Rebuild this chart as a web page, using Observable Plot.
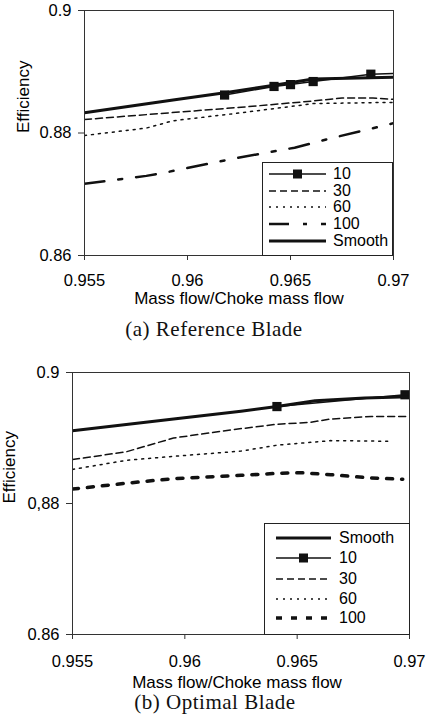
<!DOCTYPE html>
<html>
<head>
<meta charset="utf-8">
<script src="https://cdn.jsdelivr.net/npm/d3@7"></script>
<script src="https://cdn.jsdelivr.net/npm/@observablehq/plot@0.6"></script>
<style>
  html, body { margin: 0; padding: 0; background: #fff; }
  #root { position: relative; width: 433px; height: 726px; overflow: hidden; background: #fff; }
  .abs { position: absolute; }
  .legend { position: absolute; box-sizing: border-box; border: 1px solid #222; background: #fff;
            font-family: "Liberation Sans", Arial, sans-serif; font-size: 16px; color: #000; }
  .row { position: absolute; height: 14px; display: flex; align-items: center; white-space: nowrap; }
  .row svg { display: block; }
  .row span { display: block; height: 14px; line-height: 14px; overflow: visible; }
  .caption { position: absolute; font-family: "Liberation Serif", "Times New Roman", serif; font-size: 21px;
             letter-spacing: 0.5px; color: #111; white-space: nowrap; transform: translate(-50%, -50%); }
</style>
</head>
<body>
<div id="root"></div>
<script>
// ---------- tick values and labels ----------
const xTicks = [0.955, 0.96, 0.965, 0.97];
const xTickLabels = ["0.955", "0.96", "0.965", "0.97"];
const yTicks = [0.86, 0.88, 0.9];
const yTickLabelsA = ["0.86", "0.88", "0.9"];
const yTickLabelsB = ["0.86", "0,88", "0.9"];
const xTitle = "Mass flow/Choke mass flow";
const yTitle = "Efficiency";
const captionA = "(a) Reference Blade";
const captionB = "(b) Optimal Blade";

// ---------- (a) Reference Blade ----------
const aSmoothX = [0.955, 0.9593, 0.9619, 0.9642, 0.9661, 0.970];
const aSmoothY = [0.8833, 0.8854, 0.8866, 0.8878, 0.8888, 0.8891];
const a10X = [0.9618, 0.9642, 0.9650, 0.9661, 0.9689, 0.9705];
const a10Y = [0.8862, 0.8876, 0.8879, 0.8884, 0.8896, 0.8898];
const a30X = [0.955, 0.958, 0.9626, 0.966, 0.9675, 0.969, 0.970];
const a30Y = [0.8822, 0.8830, 0.8842, 0.8852, 0.8857, 0.8857, 0.8855];
const a60X = [0.955, 0.958, 0.9593, 0.9626, 0.9661, 0.9697, 0.970];
const a60Y = [0.8796, 0.8808, 0.8820, 0.8833, 0.8848, 0.8850, 0.8850];
const a100X = [0.955, 0.958, 0.959, 0.9622, 0.9652, 0.9668, 0.970];
const a100Y = [0.8717, 0.8730, 0.8736, 0.8758, 0.8776, 0.8790, 0.8816];
const legendOrderA = ["10", "30", "60", "100", "Smooth"];

// ---------- (b) Optimal Blade ----------
const bSmoothX = [0.955, 0.9595, 0.9625, 0.9641, 0.9658, 0.9680, 0.970];
const bSmoothY = [0.8911, 0.8929, 0.8941, 0.8948, 0.8957, 0.8961, 0.8963];
const b10X = [0.9641, 0.9698];
const b10Y = [0.8948, 0.8966];
const b30X = [0.955, 0.9574, 0.9595, 0.9622, 0.9641, 0.9656, 0.9665, 0.9683, 0.970];
const b30Y = [0.8867, 0.8879, 0.8900, 0.8913, 0.8921, 0.8924, 0.8929, 0.8933, 0.8933];
const b60X = [0.955, 0.9574, 0.9595, 0.9625, 0.9641, 0.9665, 0.9692];
const b60Y = [0.8852, 0.8866, 0.8872, 0.8880, 0.8889, 0.8896, 0.8895];
const b100X = [0.955, 0.9574, 0.9595, 0.9625, 0.9641, 0.9652, 0.9665, 0.9683, 0.9697];
const b100Y = [0.8822, 0.8831, 0.8838, 0.8843, 0.8846, 0.8847, 0.8844, 0.8839, 0.8837];
const legendOrderB = ["Smooth", "10", "30", "60", "100"];

// ---------- styles ----------
const seriesStyleA = {
  "Smooth": {strokeWidth: 3, dash: null},
  "10": {strokeWidth: 1.5, dash: null, marker: true},
  "30": {strokeWidth: 1.5, dash: "7,4"},
  "60": {strokeWidth: 1.5, dash: "2,5"},
  "100": {strokeWidth: 2.5, dash: "20,14,4,14"}
};
const seriesStyleB = {
  "Smooth": {strokeWidth: 3, dash: null},
  "10": {strokeWidth: 1.5, dash: null, marker: true},
  "30": {strokeWidth: 1.5, dash: "7,4"},
  "60": {strokeWidth: 1.5, dash: "2,5"},
  "100": {strokeWidth: 3.5, dash: "6,9"}
};

const zip = (xs, ys) => xs.map((x, i) => ({x, y: ys[i]}));

function makeChart(series, styles, yLabels, geom) {
  const xLab = new Map(xTicks.map((t, i) => [t, xTickLabels[i]]));
  const yLab = new Map(yTicks.map((t, i) => [t, yLabels[i]]));
  const marks = [];
  for (const key of ["100", "60", "30", "10", "Smooth"]) {
    const s = styles[key];
    const data = series[key];
    marks.push(Plot.line(data, {
      x: "x", y: "y", stroke: "#111", strokeWidth: s.strokeWidth,
      strokeDasharray: s.dash || undefined, strokeLinejoin: "round", clip: true
    }));
    if (s.marker) {
      marks.push(Plot.dot(data.filter(d => d.x <= 0.97), {
        x: "x", y: "y", symbol: "square", r: 5.2, fill: "#111", stroke: "none"
      }));
    }
  }
  marks.push(Plot.frame({stroke: "#333", strokeWidth: 1}));
  marks.push(Plot.axisX(xTicks, {tickSize: 5, tickPadding: geom.xPad, tickFormat: d => xLab.get(d), stroke: "#333", fill: "#000", fontSize: 16.5}));
  marks.push(Plot.axisY(yTicks, {tickSize: 6, tickPadding: 7, tickFormat: d => yLab.get(d), stroke: "#333", fill: "#000", fontSize: 16.5}));
  marks.push(Plot.text([xTitle], {frameAnchor: "bottom", dy: geom.xTitleDy, dx: geom.xTitleDx, text: d => d, lineAnchor: "middle", fontSize: 17, fill: "#000"}));
  marks.push(Plot.text([yTitle], {frameAnchor: "left", dx: geom.yTitleDx, rotate: -90, text: d => d, lineAnchor: "middle", fontSize: 17, fill: "#000"}));
  return Plot.plot({
    width: 433,
    height: geom.height,
    marginTop: geom.mt, marginBottom: geom.mb, marginLeft: geom.ml, marginRight: geom.mr,
    x: {domain: [0.955, 0.97], label: null},
    y: {domain: [0.86, 0.9], label: null},
    style: {fontFamily: "'Liberation Sans', Arial, sans-serif", fontSize: "16px", color: "#000", background: "transparent"},
    marks
  });
}

function makeLegend(order, styles, box) {
  const div = document.createElement("div");
  div.className = "legend";
  Object.assign(div.style, {left: box.left + "px", top: box.top + "px", width: box.width + "px", height: box.height + "px"});
  order.forEach((key, i) => {
    const s = styles[key];
    const row = document.createElement("div");
    row.className = "row";
    row.style.left = box.swLeft + "px";
    row.style.top = (box.rows[i] - 7) + "px";
    const w = box.swWidth;
    const svg = d3.create("svg").attr("width", w).attr("height", 14);
    svg.append("line").attr("x1", 0).attr("x2", w).attr("y1", 7).attr("y2", 7)
      .attr("stroke", "#111").attr("stroke-width", s.strokeWidth)
      .attr("stroke-dasharray", s.dash || null);
    if (s.marker) {
      svg.append("rect").attr("x", w / 2 - 4.5).attr("y", 2.5).attr("width", 9).attr("height", 9).attr("fill", "#111");
    }
    row.appendChild(svg.node());
    const lab = document.createElement("span");
    lab.textContent = key;
    lab.style.marginLeft = box.gap + "px";
    row.appendChild(lab);
    div.appendChild(row);
  });
  return div;
}

const root = document.getElementById("root");

// chart (a)
const seriesA = {"Smooth": zip(aSmoothX, aSmoothY), "10": zip(a10X, a10Y), "30": zip(a30X, a30Y), "60": zip(a60X, a60Y), "100": zip(a100X, a100Y)};
const chartA = makeChart(seriesA, seriesStyleA, yTickLabelsA,
  {height: 310, mt: 10, mb: 55, ml: 84, mr: 40, xPad: 14, xTitleDy: 43, xTitleDx: 0, yTitleDx: -61});
chartA.classList.add("abs");
chartA.style.left = "0px"; chartA.style.top = "0px";
root.appendChild(chartA);
root.appendChild(makeLegend(legendOrderA, seriesStyleA,
  {left: 262, top: 162, width: 131, height: 94, swLeft: 6, swWidth: 57, gap: 7, rows: [11, 28, 44, 61, 78]}));
const capA = document.createElement("div");
capA.className = "caption"; capA.textContent = captionA;
capA.style.left = "214px"; capA.style.top = "329px";
root.appendChild(capA);

// chart (b)
const seriesB = {"Smooth": zip(bSmoothX, bSmoothY), "10": zip(b10X, b10Y), "30": zip(b30X, b30Y), "60": zip(b60X, b60Y), "100": zip(b100X, b100Y)};
const chartB = makeChart(seriesB, seriesStyleB, yTickLabelsB,
  {height: 330, mt: 10, mb: 58, ml: 72, mr: 24, xPad: 16, xTitleDy: 48, xTitleDx: -4, yTitleDx: -63});
chartB.classList.add("abs");
chartB.style.left = "0px"; chartB.style.top = "362px";
root.appendChild(chartB);
root.appendChild(makeLegend(legendOrderB, seriesStyleB,
  {left: 264, top: 523, width: 146, height: 112, swLeft: 11, swWidth: 55, gap: 8, rows: [14, 34, 55, 75, 94]}));
const capB = document.createElement("div");
capB.className = "caption"; capB.textContent = captionB;
capB.style.left = "215px"; capB.style.top = "702px";
root.appendChild(capB);
</script>
</body>
</html>
